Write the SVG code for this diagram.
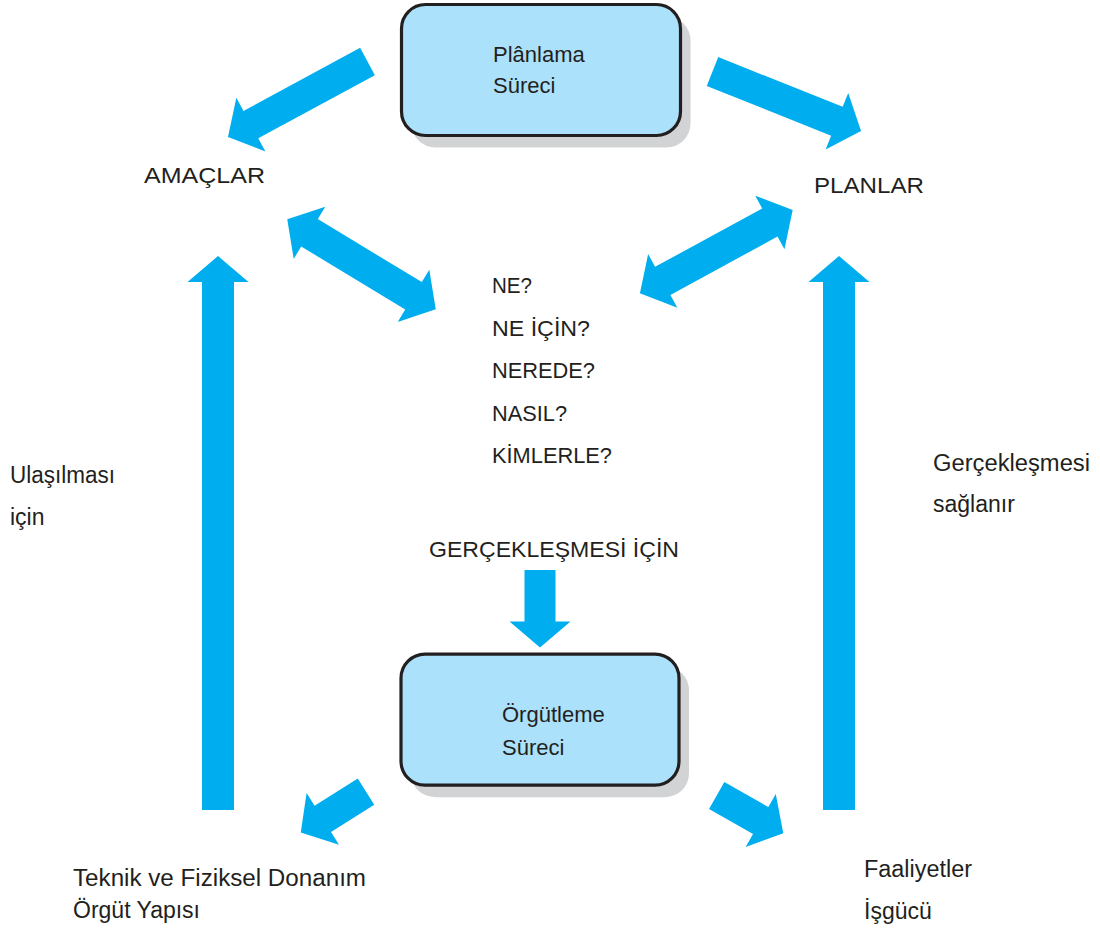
<svg xmlns="http://www.w3.org/2000/svg" width="1100" height="935" viewBox="0 0 1100 935">
  <style>
    .arrow { fill: #00aeef; }
    .shadow { fill: #d1d3d4; }
    .box { fill: #abe1fa; stroke: #231f20; stroke-width: 3.2; }
    .label { font-family: "Liberation Sans", Arial, sans-serif; font-size: 22px; fill: #231f20; }
    .side { font-size: 23px; }
  </style>

  <!-- process boxes -->
  <g id="planlama-sureci">
    <rect class="shadow" x="411.5" y="16.5" width="279" height="131" rx="24"/>
    <rect class="box" x="401.5" y="4.5" width="279" height="131" rx="24"/>
    <text class="label" x="493" y="62">Plânlama</text>
    <text class="label" x="493" y="93">Süreci</text>
  </g>

  <g id="orgutleme-sureci">
    <rect class="shadow" x="411" y="666.2" width="278" height="131" rx="24"/>
    <rect class="box" x="401" y="654.2" width="278" height="131" rx="24"/>
    <text class="label" x="502" y="722">Örgütleme</text>
    <text class="label" x="502" y="755">Süreci</text>
  </g>

  <!-- labels -->
  <g id="amaclar"><text class="label" x="144" y="183" textLength="121" lengthAdjust="spacingAndGlyphs">AMAÇLAR</text></g>
  <g id="planlar"><text class="label" x="814" y="193" textLength="110" lengthAdjust="spacingAndGlyphs">PLANLAR</text></g>

  <g id="sorular">
    <text class="label" x="492" y="293" textLength="40" lengthAdjust="spacingAndGlyphs">NE?</text>
    <text class="label" x="492" y="335.5" textLength="98" lengthAdjust="spacingAndGlyphs">NE İÇİN?</text>
    <text class="label" x="492" y="378" textLength="103" lengthAdjust="spacingAndGlyphs">NEREDE?</text>
    <text class="label" x="492" y="420.5" textLength="75" lengthAdjust="spacingAndGlyphs">NASIL?</text>
    <text class="label" x="492" y="463" textLength="120" lengthAdjust="spacingAndGlyphs">KİMLERLE?</text>
  </g>

  <g id="gerceklesmesi-icin"><text class="label" x="429" y="557" textLength="250" lengthAdjust="spacingAndGlyphs">GERÇEKLEŞMESİ İÇİN</text></g>

  <g id="ulasilmasi-icin">
    <text class="label side" x="10" y="483" textLength="105" lengthAdjust="spacingAndGlyphs">Ulaşılması</text>
    <text class="label side" x="10" y="525">için</text>
  </g>

  <g id="gerceklesmesi-saglanir">
    <text class="label side" x="933" y="471" textLength="157" lengthAdjust="spacingAndGlyphs">Gerçekleşmesi</text>
    <text class="label side" x="933" y="512">sağlanır</text>
  </g>

  <g id="donanim-yapi">
    <text class="label side" x="73" y="886" textLength="293" lengthAdjust="spacingAndGlyphs">Teknik ve Fiziksel Donanım</text>
    <text class="label side" x="73" y="918">Örgüt Yapısı</text>
  </g>

  <g id="faaliyetler-isgucu">
    <text class="label side" x="864" y="877" textLength="108" lengthAdjust="spacingAndGlyphs">Faaliyetler</text>
    <text class="label side" x="864" y="919">İşgücü</text>
  </g>

  <!-- connectors: block arrows, drawn along +x from the tail and rotated into place -->
  <g id="connectors" class="arrow">
    <!-- Plânlama Süreci -> AMAÇLAR -->
    <polygon transform="translate(367.5,61.5) rotate(151.6)" points="0,-15.5 132.6,-15.5 132.6,-30.5 158.6,0 132.6,30.5 132.6,15.5 0,15.5"/>
    <!-- Plânlama Süreci -> PLANLAR -->
    <polygon transform="translate(712.5,71.5) rotate(21.8)" points="0,-15.5 134,-15.5 134,-30.5 160,0 134,30.5 134,15.5 0,15.5"/>
    <!-- AMAÇLAR <-> questions -->
    <polygon transform="translate(361.5,264.3) rotate(31.2)" points="-86.8,0 -60.8,-30.5 -60.8,-16 60.8,-16 60.8,-30.5 86.8,0 60.8,30.5 60.8,16 -60.8,16 -60.8,30.5"/>
    <!-- PLANLAR <-> questions -->
    <polygon transform="translate(716.3,251.7) rotate(-28.6)" points="-87,0 -61,-30.5 -61,-16 61,-16 61,-30.5 87,0 61,30.5 61,16 -61,16 -61,30.5"/>
    <!-- Ulaşılması için: up to AMAÇLAR -->
    <polygon transform="translate(218,810) rotate(-90)" points="0,-16 528,-16 528,-30.5 554,0 528,30.5 528,16 0,16"/>
    <!-- Gerçekleşmesi sağlanır: up to PLANLAR -->
    <polygon transform="translate(839,810) rotate(-90)" points="0,-16 528,-16 528,-30.5 554,0 528,30.5 528,16 0,16"/>
    <!-- GERÇEKLEŞMESİ İÇİN -> Örgütleme Süreci -->
    <polygon transform="translate(540,570) rotate(90)" points="0,-15.5 51.5,-15.5 51.5,-30.5 77.5,0 51.5,30.5 51.5,15.5 0,15.5"/>
    <!-- Örgütleme Süreci -> Teknik ve Fiziksel Donanım -->
    <polygon transform="translate(366,791.7) rotate(147.9)" points="0,-15.5 51,-15.5 51,-30.5 77,0 51,30.5 51,15.5 0,15.5"/>
    <!-- Örgütleme Süreci -> Faaliyetler -->
    <polygon transform="translate(716.7,795.5) rotate(29.6)" points="0,-15.5 50.6,-15.5 50.6,-30.5 76.6,0 50.6,30.5 50.6,15.5 0,15.5"/>
  </g>
</svg>
